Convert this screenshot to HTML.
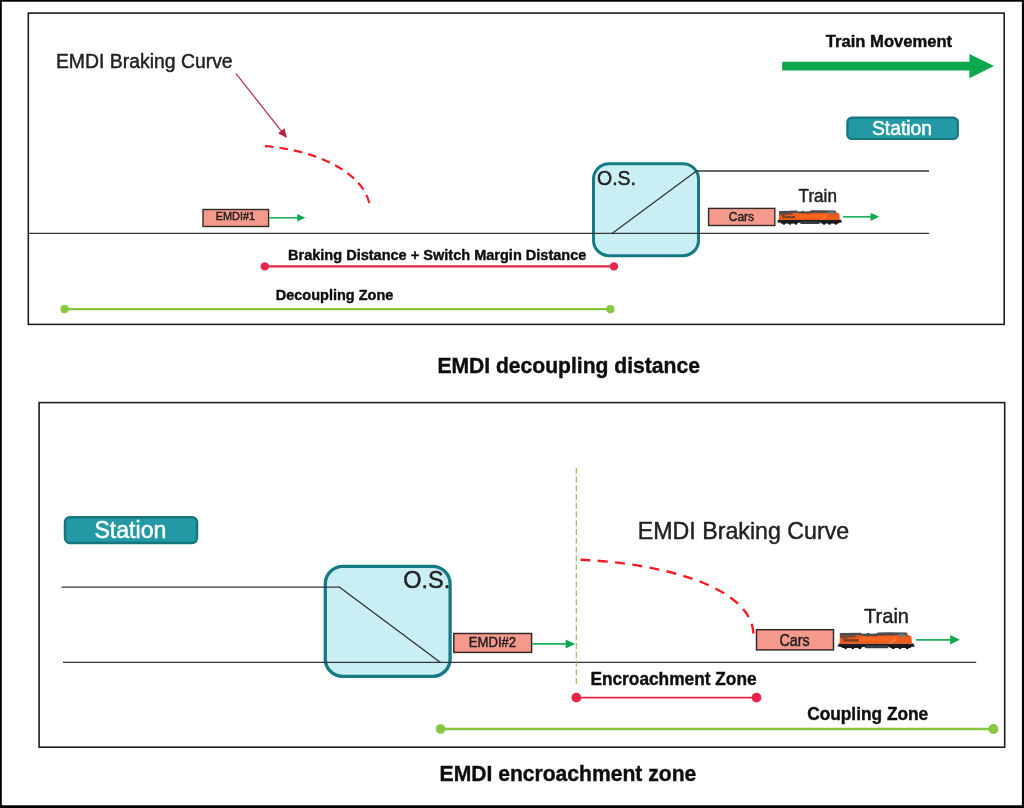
<!DOCTYPE html>
<html>
<head>
<meta charset="utf-8">
<title>EMDI decoupling distance / encroachment zone</title>
<style>
  html, body { margin: 0; padding: 0; background: #ffffff; }
  body { width: 1024px; height: 808px; overflow: hidden; font-family: "Liberation Sans", sans-serif; }
  svg { display: block; position: absolute; left: 0; top: 0; }
  text { font-family: "Liberation Sans", sans-serif; stroke-width: 0.42px; stroke-linejoin: round; }
  text[fill="#242424"] { stroke: #1a1a1a; }
  text[fill="#111"] { stroke: #111; stroke-width: 0.4px; }
  text[fill="#ffffff"] { stroke: #ffffff; stroke-width: 0.5px; }
  .b { font-weight: bold; }
</style>
</head>
<body>
<svg width="1024" height="808" viewBox="0 0 1024 808">
  <defs>
    <filter id="soft" x="-5%" y="-5%" width="110%" height="110%">
      <feGaussianBlur stdDeviation="0.45"/>
    </filter>
    <filter id="softer" x="-5%" y="-20%" width="110%" height="140%">
      <feGaussianBlur stdDeviation="0.35"/>
    </filter>
    <!-- locomotive, local coords 0..78 x 0..18 -->
    <g id="loco">
      <!-- under frame / walkway -->
      <path d="M1.4 11.5 L76 11.5 L77.4 14.4 L74 15 L3.5 15 L0.2 14.4 Z" fill="#1c1d22"/>
      <!-- fuel tank -->
      <rect x="27.5" y="13.2" width="23.5" height="3.2" rx="1" fill="#343a48"/>
      <!-- trucks -->
      <rect x="4.5" y="14" width="20" height="2" fill="#17181c"/>
      <rect x="52.5" y="14" width="21" height="2" fill="#17181c"/>
      <!-- wheels -->
      <circle cx="8.2" cy="15.9" r="1.5" fill="#111216"/>
      <circle cx="15.4" cy="15.9" r="1.5" fill="#111216"/>
      <circle cx="22.4" cy="15.9" r="1.5" fill="#111216"/>
      <circle cx="55.8" cy="15.9" r="1.5" fill="#111216"/>
      <circle cx="62.6" cy="15.9" r="1.5" fill="#111216"/>
      <circle cx="69.8" cy="15.9" r="1.5" fill="#111216"/>
      <!-- orange body -->
      <path d="M2.4 2.6 L24 2.2 L26 3 L38 3 L40.5 1.6 L69.5 1.6 L72 3.4 L74 4 L74.6 11.7 L2.2 11.7 Z" fill="#ee5a1c"/>
      <!-- brighter band -->
      <path d="M22 5.2 L60 4.6 L60 9.6 L22 9.8 Z" fill="#f5661f"/>
      <!-- roof dark strip -->
      <path d="M2.4 0.9 L23.5 0.5 L25 1.6 L29 1.2 L31 0.6 L33 1.5 L39 1.4 L40.6 0.2 L52 0 L69 0.4 L70.5 2.2 L58 3.2 L41 3.4 L38 4 L26 3.8 L24 3 L2.4 3.6 Z" fill="#4a4b52"/>
      <!-- radiator / rear dark panel -->
      <path d="M2.6 3.4 L18 3.2 L18 5.2 L2.6 5.6 Z" fill="#6b4a3a"/>
      <!-- cab window -->
      <rect x="61.6" y="1.7" width="5.4" height="2.7" fill="#5c8388"/>
      <rect x="67.8" y="1.9" width="1.8" height="2.4" fill="#4d6a70"/>
      <!-- logo lettering -->
      <rect x="6" y="7.1" width="15.5" height="2.4" fill="#5a3a2a" opacity="0.8"/>
      <rect x="5" y="5.6" width="5" height="1.4" fill="#7a4a30"/>
      <!-- diagonal stripe near cab -->
      <path d="M51 11.4 L57 8 L57.8 8.6 L52.4 11.6 Z" fill="#f7b48a" opacity="0.6"/>
      <path d="M56.6 8.2 L58.6 3.8 L59.2 4 L57.4 8.6 Z" fill="#f9a070" opacity="0.6"/>
      <!-- darker seam -->
      <rect x="38.6" y="3.6" width="0.6" height="8" fill="#d8501a"/>
    </g>
  </defs>

  <!-- ============ outer frame ============ -->
  <rect x="0" y="0" width="1024" height="808" fill="#ffffff"/>
  <rect x="0.85" y="0.75" width="1022" height="805.9" fill="none" stroke="#000" stroke-width="1.9"/>
  <rect x="1022" y="0" width="2" height="808" fill="#000"/>
  <rect x="0" y="805.4" width="1024" height="2.6" fill="#000"/>

  <g filter="url(#softer)">
  <!-- ============ TOP PANEL ============ -->
  <rect x="28.3" y="13.1" width="975.9" height="311.3" fill="#ffffff" stroke="#1e1e1e" stroke-width="1.6"/>

  <!-- tracks -->
  <line x1="28.3" y1="233.4" x2="929" y2="233.4" stroke="#30343a" stroke-width="1.3"/>
  <!-- O.S. box -->
  <rect x="593.5" y="163.7" width="105" height="92" rx="15.5" ry="15.5" fill="#c9eff4" stroke="#147a85" stroke-width="3"/>
  <line x1="592" y1="233.4" x2="700" y2="233.4" stroke="#30343a" stroke-width="1.3"/>
  <line x1="696" y1="171" x2="929" y2="171" stroke="#30343a" stroke-width="1.3"/>
  <line x1="612" y1="233.4" x2="696.4" y2="171" stroke="#30343a" stroke-width="1.3"/>
  <text transform="translate(597,184.9) scale(1,1.03)" font-size="19.5" fill="#242424">O.S.</text>

  <!-- EMDI braking curve label + pointer -->
  <text transform="translate(55.9,68) scale(1,1.0)" font-size="19.4" fill="#242424">EMDI Braking Curve</text>
  <line x1="236" y1="73.6" x2="282.4" y2="132.3" stroke="#b9294a" stroke-width="1.2"/>
  <path d="M287 138 L278.1 133.3 L284.5 128.2 Z" fill="#b3203e"/>
  <path d="M264.9 146.2 C 310 149.5, 360.3 168.4, 369.3 203" fill="none" stroke="#f81a22" stroke-width="2.2" stroke-dasharray="8.7 5.92"/>

  <!-- EMDI#1 -->
  <rect x="203" y="209.5" width="65.6" height="17" fill="#f4998c" stroke="#332c2b" stroke-width="1.4"/>
  <text transform="translate(235.4,220.4) scale(1,1.08)" font-size="10.9" fill="#242424" text-anchor="middle">EMDI#1</text>
  <line x1="269.3" y1="217.8" x2="298" y2="217.8" stroke="#1db25a" stroke-width="1.6"/>
  <path d="M305.4 217.8 L297.2 214 L297.2 221.6 Z" fill="#10ab50"/>

  <!-- Cars + loco -->
  <rect x="708.6" y="208.4" width="66.2" height="17.1" fill="#f4998c" stroke="#332c2b" stroke-width="1.4"/>
  <text transform="translate(741.4,221.3) scale(1,1.1)" font-size="12" fill="#242424" text-anchor="middle">Cars</text>
  <g transform="translate(777,210.2) scale(0.842,0.835)" filter="url(#soft)"><use href="#loco"/></g>
  <text transform="translate(798.6,202.4) scale(1,1.04)" font-size="17.1" fill="#242424">Train</text>
  <line x1="843" y1="216.8" x2="872" y2="216.8" stroke="#1db25a" stroke-width="1.6"/>
  <path d="M879.4 216.8 L870.6 212.7 L870.6 220.9 Z" fill="#10ab50"/>

  <!-- Train movement -->
  <text transform="translate(825.8,47) scale(1,1.03)" font-size="16.6" class="b" fill="#111">Train Movement</text>
  <path d="M782.2 61.7 L969.4 61.7 L969.4 54 L994 66 L969.4 78.2 L969.4 70.4 L782.2 70.4 Z" fill="#0aa84e"/>

  <!-- Station -->
  <rect x="847.4" y="117.6" width="110.4" height="21.4" rx="4.5" ry="4.5" fill="#2199a5" stroke="#14747f" stroke-width="2.2"/>
  <text transform="translate(902,134.5) scale(1,1.03)" font-size="19.3" fill="#ffffff" text-anchor="middle">Station</text>

  <!-- braking distance -->
  <line x1="264.8" y1="266.4" x2="614" y2="266.4" stroke="#e8254a" stroke-width="2.2"/>
  <circle cx="264.8" cy="266.4" r="4.2" fill="#e8254a"/>
  <circle cx="614" cy="266.4" r="4.2" fill="#e8254a"/>
  <text transform="translate(288,260.2) scale(1,1.03)" font-size="14.55" class="b" fill="#111">Braking Distance + Switch Margin Distance</text>

  <!-- decoupling zone -->
  <line x1="64.6" y1="309.2" x2="610.4" y2="309.2" stroke="#86c840" stroke-width="2.2"/>
  <circle cx="64.6" cy="309.2" r="4.1" fill="#86c840"/>
  <circle cx="610.4" cy="309.2" r="4.1" fill="#86c840"/>
  <text transform="translate(275.8,299.6) scale(1,1.03)" font-size="14.5" class="b" fill="#111">Decoupling Zone</text>

  <!-- caption -->
  <text transform="translate(437.4,373.2) scale(1,1.04)" font-size="21.1" class="b" fill="#111">EMDI decoupling distance</text>

  <!-- ============ BOTTOM PANEL ============ -->
  <rect x="39.1" y="402.6" width="965.6" height="344.6" fill="#ffffff" stroke="#1e1e1e" stroke-width="1.6"/>

  <!-- Station -->
  <rect x="65" y="517.2" width="132" height="25.8" rx="5" ry="5" fill="#2199a5" stroke="#14747f" stroke-width="2.5"/>
  <text transform="translate(130.4,538) scale(1,1.03)" font-size="23.1" fill="#ffffff" text-anchor="middle">Station</text>

  <!-- tracks -->
  <line x1="63" y1="662.4" x2="976.2" y2="662.4" stroke="#30343a" stroke-width="1.3"/>
  <rect x="325.3" y="566.4" width="124.8" height="110" rx="17.5" ry="17.5" fill="#c9eff4" stroke="#147a85" stroke-width="3.3"/>
  <line x1="323" y1="662.4" x2="452" y2="662.4" stroke="#30343a" stroke-width="1.3"/>
  <line x1="61.6" y1="587.2" x2="340" y2="587.2" stroke="#30343a" stroke-width="1.3"/>
  <line x1="339.6" y1="587.2" x2="440.4" y2="662.4" stroke="#30343a" stroke-width="1.3"/>
  <text transform="translate(403.2,587.5) scale(1,1.03)" font-size="23.5" fill="#242424">O.S.</text>

  <!-- EMDI#2 -->
  <rect x="453.8" y="633.5" width="77.8" height="18.9" fill="#f4998c" stroke="#332c2b" stroke-width="1.5"/>
  <text transform="translate(492.5,647) scale(1,1.08)" font-size="13.1" fill="#242424" text-anchor="middle">EMDI#2</text>
  <line x1="532.2" y1="643.95" x2="567" y2="643.95" stroke="#1db25a" stroke-width="1.7"/>
  <path d="M575.2 643.95 L565.6 639.5 L565.6 648.4 Z" fill="#10ab50"/>

  <!-- green dashed vertical -->
  <line x1="576.3" y1="467.8" x2="576.3" y2="685.5" stroke="#82c845" stroke-width="1.15" stroke-dasharray="5.9 2.86"/>

  <!-- braking curve -->
  <text transform="translate(637.8,539.4) scale(1,1.0)" font-size="23.2" fill="#242424">EMDI Braking Curve</text>
  <path d="M580.6 559.8 C 649.2 562.4, 750.5 582.6, 753.5 633.6" fill="none" stroke="#f81a22" stroke-width="2.4" stroke-dasharray="9.9 7.44"/>

  <!-- Cars + loco -->
  <rect x="756.5" y="629.7" width="77" height="20.2" fill="#f4998c" stroke="#332c2b" stroke-width="1.5"/>
  <text transform="translate(794.6,645.7) scale(1,1.1)" font-size="14.3" fill="#242424" text-anchor="middle">Cars</text>
  <g transform="translate(837.4,632.2) scale(1,0.985)" filter="url(#soft)"><use href="#loco"/></g>
  <text transform="translate(864,622.8) scale(1,1.04)" font-size="20.1" fill="#242424">Train</text>
  <line x1="916" y1="639.8" x2="952" y2="639.8" stroke="#1db25a" stroke-width="1.7"/>
  <path d="M960 639.8 L950.2 635.1 L950.2 644.5 Z" fill="#10ab50"/>

  <!-- encroachment zone -->
  <line x1="576.4" y1="697.65" x2="756.5" y2="697.65" stroke="#e8254a" stroke-width="1.6"/>
  <circle cx="576.4" cy="697.65" r="4.9" fill="#e8254a"/>
  <circle cx="756.5" cy="697.65" r="4.9" fill="#e8254a"/>
  <text transform="translate(590.4,685.4) scale(1,1.03)" font-size="17.3" class="b" fill="#111">Encroachment Zone</text>

  <!-- coupling zone -->
  <line x1="440.6" y1="729" x2="993.4" y2="729" stroke="#86c840" stroke-width="2.4"/>
  <circle cx="440.6" cy="729" r="4.8" fill="#86c840"/>
  <circle cx="993.4" cy="729" r="4.9" fill="#86c840"/>
  <text transform="translate(807.2,720.2) scale(1,1.03)" font-size="17.3" class="b" fill="#111">Coupling Zone</text>

  <!-- caption -->
  <text transform="translate(439.6,781.4) scale(1,1.04)" font-size="21.1" class="b" fill="#111">EMDI encroachment zone</text>
  </g>
</svg>
</body>
</html>
